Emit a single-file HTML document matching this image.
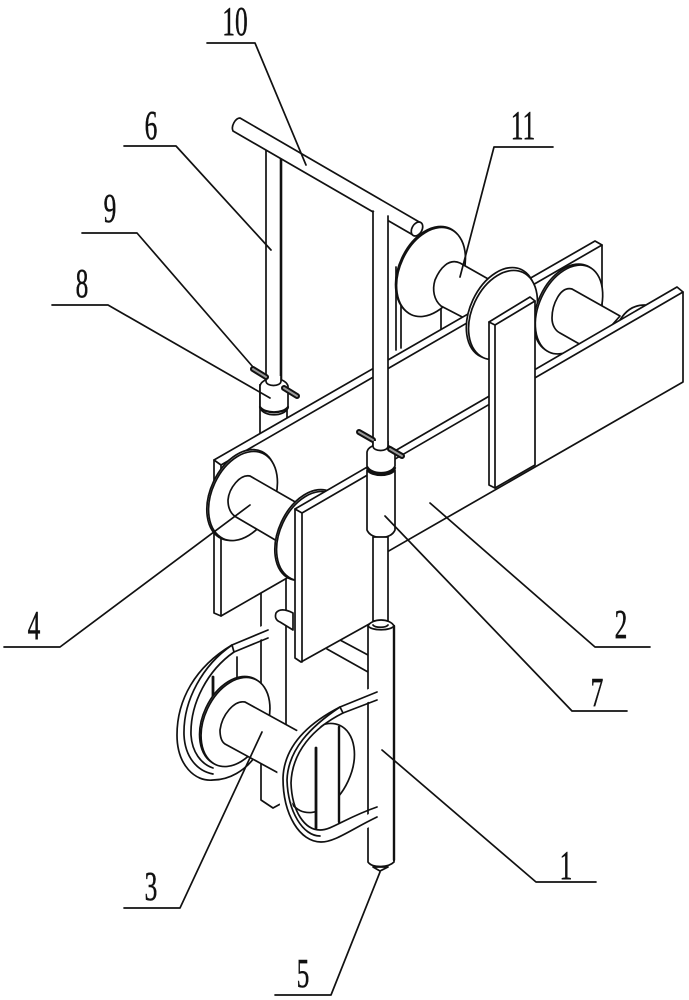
<!DOCTYPE html>
<html><head><meta charset="utf-8"><style>
html,body{margin:0;padding:0;background:#fff}
svg{display:block}
.l{fill:none;stroke:#111;stroke-width:1.7;stroke-linecap:round;stroke-linejoin:round}
.w{fill:#fff;stroke:#111;stroke-width:1.7;stroke-linejoin:round}
.t{font-family:"Liberation Serif","Noto Serif CJK SC",serif;font-size:41px;fill:#111;stroke:#111;stroke-width:.5;text-anchor:middle}
.b1{stroke:#111;stroke-width:6;stroke-linecap:round}
.b2{stroke:#999;stroke-width:2;stroke-linecap:round}
</style></head><body>
<svg width="689" height="1000" viewBox="0 0 689 1000" xmlns="http://www.w3.org/2000/svg">
<rect width="689" height="1000" fill="#fff"/>

<!-- rear rod upper -->
<path class="l" d="M266,150 V382 M281,155 V382"/>
<line class="l" x1="281" y1="158" x2="281" y2="382" style="stroke-width:2.6"/>
<path class="w" d="M260,384 V436 H287 V384"/>
<path class="w" d="M260,386 C262,376 285,376 288,386 V408 C284,417 264,417 260,408 Z"/>
<path class="l" d="M260,407 C265,414 283,414 288,407" style="stroke-width:2.2"/>
<path class="w" d="M266,376 V381 C266,387 281,387 281,381 V376" />
<!-- bolts rear -->
<line class="b1" x1="253" y1="369" x2="266" y2="377"/><line class="b2" x1="253" y1="369" x2="266" y2="377"/>
<line class="b1" x1="284" y1="388" x2="297" y2="396"/><line class="b2" x1="284" y1="388" x2="297" y2="396"/>

<!-- handle bar -->
<path class="w" d="M240,118 L421,223 A5,8 25 0 1 413,235 L233,131 A5,8 25 0 1 240,118 Z"/>
<ellipse class="w" cx="417" cy="229" rx="5" ry="7.5" transform="rotate(30 417 229)"/>

<!-- spool 11 rear support -->
<path class="l" d="M396,267 V350 M401,265 V348 M441,306 V330"/>
<ellipse class="w" cx="430" cy="271" rx="31" ry="47" transform="rotate(25 430 271)"/>
<ellipse class="w" cx="431" cy="272" rx="31" ry="47" transform="rotate(25 431 272)"/>
<path class="w" d="M490,280 L460,263 C449,258 440,268 435,280 C432,290 434,300 441,306 L468,320 Z"/>

<!-- lower rear tube -->
<path class="w" d="M261,570 V800 L273,808 L284,802 L286,735 V570 Z"/>
<path class="w" d="M276,613 C279,609 285,609 293,613 V630 L280,622 C275,620 275,616 276,613 Z"/>
<!-- cross pieces -->
<path class="l" d="M327,649 L368,672 M340,640 L368,655"/>
<!-- left ring -->
<path d="M268,630 L232,645 C195,667 177,700 177,735 C177,765 195,782 213,780 C230,780 245,770 254,758" fill="none" stroke="#fff" stroke-width="12"/>
<path class="l" d="M268,630 L232,645 C195,667 177,700 177,735 C177,765 195,782 213,780 C230,780 245,770 254,758"/>
<path class="l" d="M232,645 C203,665 183,700 184,735 C185,757 197,771 213,774"/>
<path class="l" d="M268,638 L234,652 C208,670 190,703 191,735 C192,752 201,764 213,768"/>
<line class="l" x1="232" y1="645" x2="234" y2="652"/>
<path class="l" d="M237,657 V680"/>
<line class="l" x1="213" y1="677" x2="213" y2="700" style="stroke-width:2.8"/>
<!-- spool 3 flange 1 -->
<ellipse class="w" cx="234" cy="721" rx="31" ry="47" transform="rotate(25 234 721)"/>
<ellipse class="w" cx="235.500" cy="722" rx="31" ry="47" transform="rotate(25 235.500 722)"/>
<!-- spool 3 cylinder -->
<path class="w" d="M305,735 L245,702 C234,700 222,715 220,730 C220,738 222,742 225,744 L282,775 Z"/>
<!-- spool 3 flange 2 -->
<ellipse class="w" cx="320" cy="768" rx="31" ry="47" transform="rotate(25 320 768)"/>

<!-- lower front tube -->
<path class="w" d="M368,626 V862 C372,868 388,868 394,862 V626 Z"/>
<path class="w" d="M373,867 L380,871 L388,867 Z"/>
<line class="l" x1="394" y1="626" x2="394" y2="860" style="stroke-width:2.4"/>

<!-- bars seen inside right ring -->
<rect x="316" y="727" width="23" height="101" fill="#fff"/>
<line class="l" x1="316" y1="748" x2="316" y2="828" style="stroke-width:2.8"/>
<line class="l" x1="339" y1="727" x2="339" y2="822" style="stroke-width:2.4"/>
<!-- right ring -->
<path d="M377,692 L340,707 C305,725 284,748 283,778 C283,815 300,842 321,842 L377,817" fill="none" stroke="#fff" stroke-width="12"/>
<path class="l" d="M377,692 L340,707 C305,725 284,748 283,778 C283,815 300,842 321,842 C335,842 350,830 377,817"/>
<path class="l" d="M340,707 C310,727 288,750 287,780 C288,812 303,836 320,836"/>
<path class="l" d="M377,700 L343,713 C313,728 292,752 291,783 C292,812 305,830 320,830 C332,830 345,818 377,807"/>
<path class="l" d="M340,707 L343,713"/>

<!-- rear plate -->
<path class="w" d="M214,460 L595,241 L602,245 V397 L221,616 L214,613 Z"/>
<path class="l" d="M214,460 L221,465 L602,245 M221,465 V616"/>
<!-- spool 11 flange 2 and 3 -->
<ellipse class="w" cx="501" cy="313" rx="31" ry="48" transform="rotate(25 501 313)"/>
<ellipse class="w" cx="503" cy="315" rx="31" ry="47" transform="rotate(25 503 315)"/>
<ellipse class="w" cx="567.500" cy="308.500" rx="30" ry="47" transform="rotate(25 567.500 308.500)"/>
<ellipse class="w" cx="569" cy="309.500" rx="30" ry="47" transform="rotate(25 569 309.500)"/>
<path class="w" d="M645,305 C632,305 625,312 620,320 L640,330 Z"/>
<path class="w" d="M620,316 L572,289 C560,286 552,305 552,318 C552,326 556,331 560,333 L590,350 Z"/>

<!-- spool 4 -->
<ellipse class="w" cx="241.500" cy="495" rx="31" ry="48" transform="rotate(25 241.500 495)"/>
<ellipse class="w" cx="243" cy="496" rx="31" ry="47" transform="rotate(25 243 496)"/>
<path class="w" d="M297,503 L250,476 C240,474 229,488 228,500 C228,508 231,514 236,517 L277,541 Z"/>
<ellipse class="w" cx="309.500" cy="535" rx="31" ry="48" transform="rotate(25 309.500 535)"/>
<ellipse class="w" cx="311" cy="536" rx="31" ry="47" transform="rotate(25 311 536)"/>

<!-- front plate -->
<path class="w" d="M295,509 L677,287 L683,292 V382 L380,556 V618 L301,662 L295,658 Z"/>
<path class="l" d="M295,509 L302,513 L683,292 M302,513 V662"/>

<!-- vertical plate -->
<path class="w" d="M489,322 L530,297 L535,301 V465 L495,488 L489,485 Z"/>
<path class="l" d="M489,322 L495,325 L535,301 M495,325 V488"/>

<!-- front rod -->
<rect x="373" y="212" width="15" height="240" fill="#fff"/>
<path class="l" d="M373,211 V452 M388,216 V452"/>
<line class="b1" x1="359" y1="432" x2="373" y2="440"/><line class="b2" x1="359" y1="432" x2="373" y2="440"/>
<path class="w" d="M367,452 C369,442 392,442 395,452 V466 C391,475 371,475 367,466 Z"/>
<path class="l" d="M367,468 C371,476 391,476 395,468" style="stroke-width:2.2"/>
<path class="w" d="M373,441 V446 C373,452 388,452 388,446 V441" />
<line class="b1" x1="390" y1="449" x2="402" y2="456"/><line class="b2" x1="390" y1="449" x2="402" y2="456"/>
<path class="w" d="M367,470 C371,477 391,477 395,470 V530 C391,540 371,540 367,530 Z"/>
<rect class="w" x="373" y="537" width="15" height="84"/>
<path class="w" d="M368,626 C372,618 390,618 394,626 C390,631 372,631 368,626 Z"/>
<path class="l" d="M373,625 C375,628 386,628 388,625"/>

<!-- leaders -->
<path class="l" d="M207,43 H255 L306,165"/>
<path class="l" d="M124,146 H176 L271,250"/>
<path class="l" d="M82,233 H137 L253,367"/>
<path class="l" d="M52,305 H108 L270,398"/>
<path class="l" d="M553,147 H494 L460,277"/>
<path class="l" d="M4,647 H60 L250,505"/>
<path class="l" d="M650,647 H595 L430,503"/>
<path class="l" d="M627,711 H572 L385,516"/>
<path class="l" d="M124,908 H180 L262,732"/>
<path class="l" d="M596,882 H536 L382,750"/>
<path class="l" d="M275,995 H331 L380,872"/>

<!-- labels -->
<text class="t" transform="translate(235,35) scale(.62,1)">10</text>
<text class="t" transform="translate(151,139) scale(.62,1)">6</text>
<text class="t" transform="translate(110,222) scale(.62,1)">9</text>
<text class="t" transform="translate(82,297) scale(.62,1)">8</text>
<text class="t" transform="translate(523,139) scale(.62,1)">11</text>
<text class="t" transform="translate(34,639) scale(.62,1)">4</text>
<text class="t" transform="translate(621,638) scale(.62,1)">2</text>
<text class="t" transform="translate(597,706) scale(.62,1)">7</text>
<text class="t" transform="translate(151,900) scale(.62,1)">3</text>
<text class="t" transform="translate(566,879) scale(.62,1)">1</text>
<text class="t" transform="translate(303,987) scale(.62,1)">5</text>
</svg>
</body></html>
